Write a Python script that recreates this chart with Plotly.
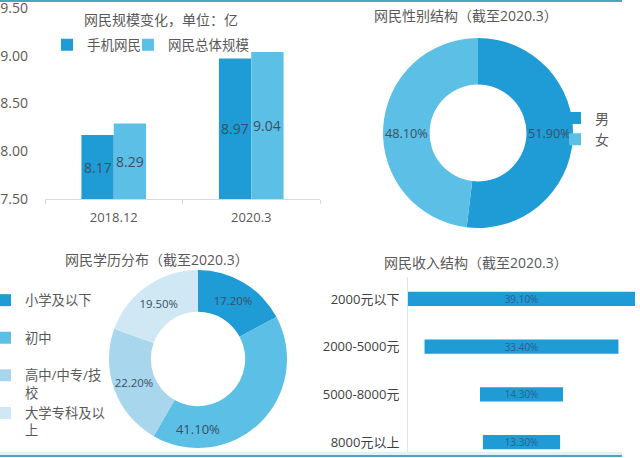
import plotly.graph_objects as go

# ---------------- data ----------------
years = ["2018.12", "2020.3"]
mobile_users = [8.17, 8.97]
total_users = [8.29, 9.04]
bar_series_names = ["手机网民", "网民总体规模"]
y_ticks = [7.5, 8.0, 8.5, 9.0, 9.5]

gender_labels = ["男", "女"]
gender_share = [51.9, 48.1]

edu_labels = ["小学及以下", "初中", "高中/中专/技校", "大学专科及以上"]
edu_share = [17.2, 41.1, 22.2, 19.5]

income_labels = ["2000元以下", "2000-5000元", "5000-8000元", "8000元以上"]
income_share = [39.1, 33.4, 14.3, 13.3]

titles = ["网民规模变化，单位：亿", "网民性别结构（截至2020.3）",
          "网民学历分布（截至2020.3）", "网民收入结构（截至2020.3）"]

# ---------------- style ----------------
W, H = 640, 458
FONT = "Open Sans, Noto Sans CJK SC, sans-serif"
DARK = "#1f9bd6"
LIGHT = "#5cbfe6"
PALE = "#a8d6ec"
PALEST = "#cfe8f4"
TXT = "#595959"
VAL = "#3b4f63"


def px_x(x):
    return x / W


def px_y(y):
    return 1 - y / H


def wrap_legend(label, width=6.0):
    """Wrap a label the way the narrow legend box does; always two lines."""
    lines, cur, w = [], "", 0.0
    for ch in label:
        cw = 0.5 if ord(ch) < 128 else 1.0
        if w + cw > width:
            lines.append(cur)
            cur, w = "", 0.0
        cur += ch
        w += cw
    lines.append(cur)
    if len(lines) == 1:
        lines.append("\u00a0")
    return "<br>".join(lines)


fig = go.Figure()

# bar chart
y_min = y_ticks[0]
bar_sets = [(bar_series_names[0], mobile_users, DARK, "legend", -16),
            (bar_series_names[1], total_users, LIGHT, "legend4", 16)]
annotations = []
for name, vals, col, leg, shift in bar_sets:
    fig.add_trace(go.Bar(x=years, y=vals, name=name,
                         marker=dict(color=col, line=dict(width=0)),
                         xaxis="x", yaxis="y", legend=leg))
    for i, v in enumerate(vals):
        annotations.append(dict(text=f"{v:.2f}", x=i, y=(y_min + v) / 2,
                                xref="x", yref="y", xshift=shift, showarrow=False,
                                font=dict(size=14, color=VAL)))

# gender donut
cx, cy, r = 478, 133, 95
fig.add_trace(go.Pie(labels=gender_labels, values=gender_share,
                     text=[f"{v:.2f}%" for v in gender_share], texttemplate="%{text}",
                     textposition="inside", insidetextorientation="horizontal",
                     textfont=dict(size=13, color=VAL, family=FONT),
                     hole=0.51, sort=False, direction="clockwise", rotation=0,
                     marker=dict(colors=[DARK, LIGHT], line=dict(width=0)),
                     domain=dict(x=[px_x(cx - r), px_x(cx + r)], y=[px_y(cy + r), px_y(cy - r)]),
                     legend="legend2"))

# education donut
cx, cy, r = 198, 359, 89
fig.add_trace(go.Pie(labels=[wrap_legend(s) for s in edu_labels], values=edu_share,
                     text=[f"{v:.2f}%" for v in edu_share], texttemplate="%{text}",
                     textposition="inside", insidetextorientation="horizontal",
                     textfont=dict(size=13, color=VAL, family=FONT),
                     hole=0.53, sort=False, direction="clockwise", rotation=0,
                     marker=dict(colors=[DARK, LIGHT, PALE, PALEST], line=dict(width=0)),
                     domain=dict(x=[px_x(cx - r), px_x(cx + r)], y=[px_y(cy + r), px_y(cy - r)]),
                     legend="legend3"))

# income funnel
fig.add_trace(go.Funnel(y=income_labels, x=income_share,
                        text=[f"{v:.2f}%" for v in income_share], texttemplate="%{text}",
                        textposition="inside", insidetextanchor="middle",
                        constraintext="none",
                        textfont=dict(size=10, color="#2b5f8c", family=FONT),
                        width=0.3, marker=dict(color=DARK, line=dict(width=0)),
                        connector=dict(visible=False), showlegend=False,
                        xaxis="x2", yaxis="y2"))

half = max(income_share) / 2


def title(text, x, y):
    return dict(text=text, x=px_x(x), y=px_y(y), xref="paper", yref="paper",
                xanchor="center", yanchor="middle", showarrow=False,
                font=dict(size=14, color=TXT))


legend_style = dict(font=dict(size=13.5, color=TXT), bgcolor="rgba(0,0,0,0)")

fig.update_layout(
    width=W, height=H, margin=dict(l=0, r=0, t=0, b=0, autoexpand=False),
    paper_bgcolor="white", plot_bgcolor="white",
    font=dict(family=FONT, size=13, color=TXT),
    barmode="group", bargap=0.53, bargroupgap=0,
    xaxis=dict(type="category", domain=[px_x(45), px_x(320)], showgrid=False, zeroline=False,
               showline=True, linecolor="#d9d9d9", linewidth=1,
               ticks="outside", tickson="boundaries", ticklen=4, tickcolor="#d9d9d9",
               tickfont=dict(size=13, color=TXT), ticklabelstandoff=6, anchor="y",
               automargin=False),
    yaxis=dict(domain=[px_y(199), px_y(8)], range=[y_min, y_ticks[-1]], tickvals=y_ticks,
               tickformat=".2f", showgrid=False, zeroline=False, showline=False,
               tickfont=dict(size=14, color=TXT), ticklabelstandoff=16,
               ticklabeloverflow="allow", anchor="x", automargin=False),
    xaxis2=dict(domain=[px_x(408), px_x(635)], range=[-half, half], visible=False,
                anchor="y2", automargin=False),
    yaxis2=dict(domain=[px_y(456), px_y(277)], range=[3.29, -0.46], showgrid=False,
                zeroline=False, showline=True, linecolor="#e3e3e3", linewidth=1,
                tickfont=dict(size=13, color="#404040"), ticklabelstandoff=5,
                anchor="x2", automargin=False),
    legend=dict(orientation="v", x=px_x(47), xanchor="left", y=px_y(45), yanchor="middle",
                **legend_style),
    legend4=dict(orientation="v", x=px_x(128), xanchor="left", y=px_y(45), yanchor="middle",
                 **legend_style),
    legend2=dict(orientation="v", x=px_x(555), xanchor="left", y=px_y(129), yanchor="middle",
                 font=dict(size=14, color=TXT), bgcolor="rgba(0,0,0,0)"),
    legend3=dict(orientation="v", x=0, xanchor="left", y=px_y(285), yanchor="top",
                 indentation=-15, tracegroupgap=0,
                 font=dict(size=13.3, color=TXT), bgcolor="rgba(0,0,0,0)", valign="top"),
    annotations=annotations + [title(titles[0], 161, 19), title(titles[1], 466, 15),
                               title(titles[2], 157, 259), title(titles[3], 476, 262)],
    shapes=[
        dict(type="line", xref="paper", yref="paper", x0=0, x1=px_x(622),
             y0=px_y(1), y1=px_y(1), line=dict(color="#45a9bb", width=2)),
        dict(type="line", xref="paper", yref="paper", x0=0, x1=px_x(622),
             y0=px_y(453.5), y1=px_y(453.5), line=dict(color="#e3f2f7", width=3)),
        dict(type="line", xref="paper", yref="paper", x0=0, x1=px_x(622),
             y0=px_y(456), y1=px_y(456), line=dict(color="#45a9bb", width=2)),
    ],
)

fig.write_html("out.html")
